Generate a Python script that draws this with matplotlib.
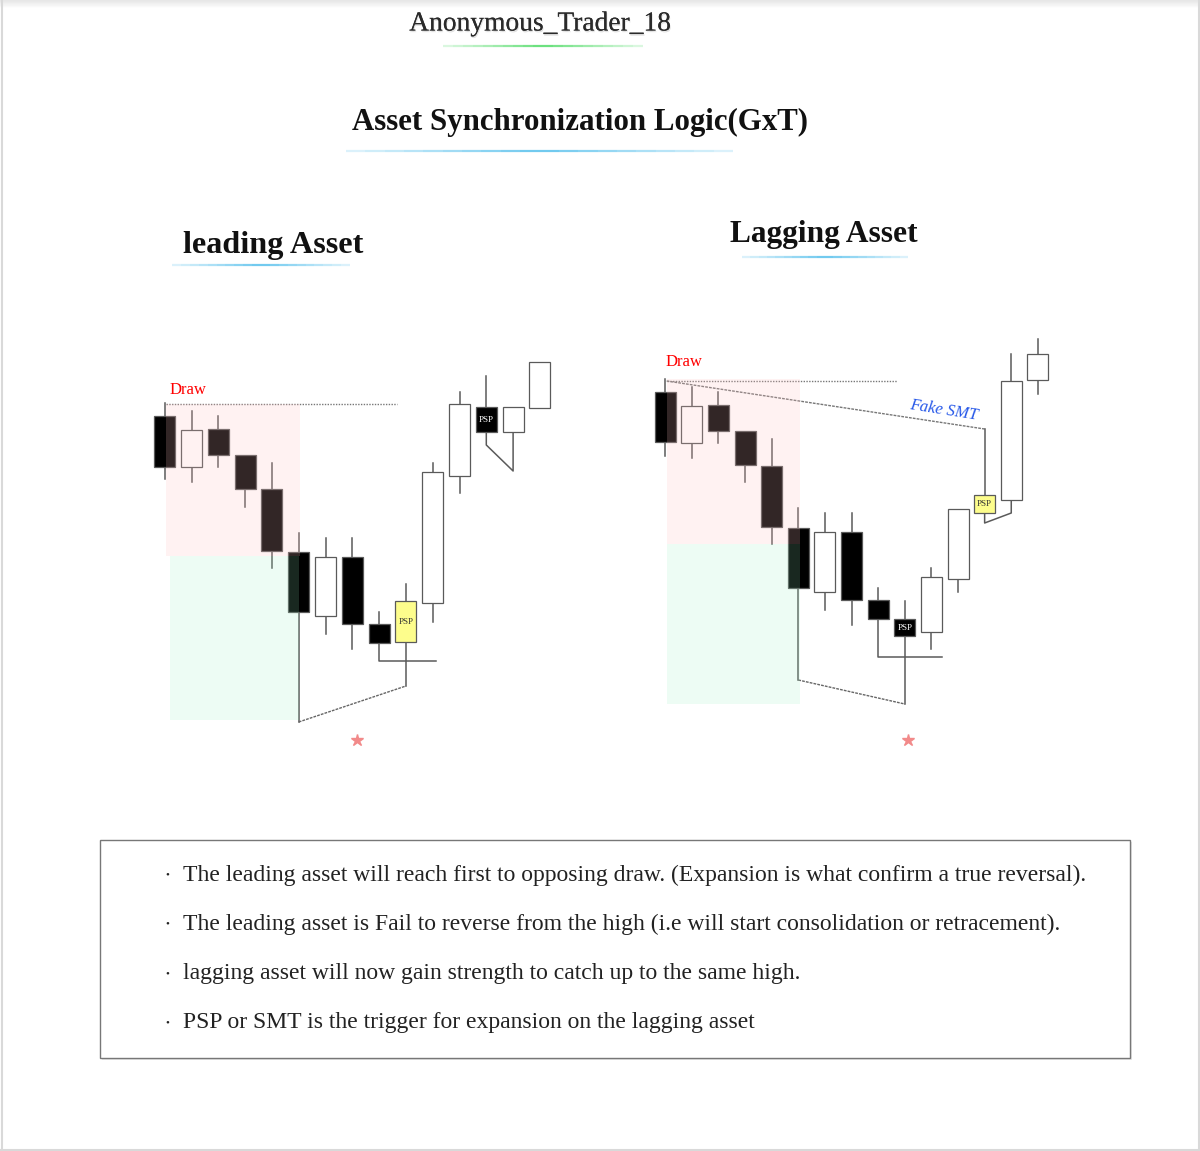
import matplotlib
matplotlib.use("Agg")
import matplotlib.pyplot as plt
import matplotlib.patheffects as pe
from matplotlib.patches import Rectangle

plt.rcParams['font.family'] = ['Liberation Serif', 'DejaVu Serif']

# candle data, in picture units (y grows downward)
# kind: k = bearish, w = bullish, y = yellow PSP, p = black PSP
lead_high = [403, 411, 416, 455, 463, 533, 538, 538, 612, 584, 463, 392, 376, 407, 362]
lead_low = [479, 482, 467, 507, 568, 612, 634, 649, 643, 642, 622, 493, 432, 432, 408]
lead_top = [416, 430, 429, 455, 489, 552, 557, 557, 624, 601, 472, 404, 407, 407, 362]
lead_bot = [467, 467, 455, 489, 551, 612, 616, 624, 643, 642, 603, 476, 432, 432, 408]
lead_kind = ['k', 'w', 'k', 'k', 'k', 'k', 'w', 'k', 'k', 'y', 'w', 'w', 'p', 'w', 'w']

lag_high = [379, 387, 392, 431, 439, 508, 513, 513, 588, 601, 568, 509, 495, 354, 339]
lag_low = [456, 458, 443, 482, 544, 588, 610, 625, 619, 636, 649, 592, 513, 500, 394]
lag_top = [392, 406, 405, 431, 466, 528, 532, 532, 600, 619, 577, 509, 495, 381, 354]
lag_bot = [442, 443, 431, 465, 527, 588, 592, 600, 619, 636, 632, 579, 513, 500, 380]
lag_kind = ['k', 'w', 'k', 'k', 'k', 'k', 'w', 'k', 'k', 'p', 'w', 'w', 'y', 'w', 'w']

# levels used by the annotation lines
lead_draw = 404
lead_zone_split = 556
lead_zone_low = 720
lead_swing_low = 722
lead_psp_low = 686
lead_eq_low = 661
lead_retrace = [445, 471]
lag_draw = 381
lag_zone_split = 544
lag_zone_low = 704
lag_smt_end = 429
lag_swing_low = 680
lag_psp_low = 704
lag_eq_low = 657
lag_psp2 = [523, 513]

bullets = [
    "The leading asset will reach first to opposing draw. (Expansion is what confirm a true reversal).",
    "The leading asset is Fail to reverse from the high (i.e will start consolidation or retracement).",
    "lagging asset will now gain strength to catch up to the same high.",
    "PSP or SMT is the trigger for expansion on the lagging asset",
]

fig = plt.figure(figsize=(12, 11.51), dpi=100)
ax = fig.add_axes([0, 0, 1, 1])
ax.set_xlim(0, 1200)
ax.set_ylim(1151, 0)
ax.axis('off')

# page frame
for i in range(8):
    ax.plot([0, 1200], [i, i], color='0.6', alpha=0.12 * (1 - i / 8), lw=1.5)
ax.plot([1.5, 1.5], [0, 1151], color='0.85', lw=1.5)
ax.plot([1198.5, 1198.5], [0, 1151], color='0.85', lw=1.5)
ax.plot([0, 1200], [1149.5, 1149.5], color='0.85', lw=1.5)

GRAY = '#5a5a5a'


def underline(x0, x1, y, color):
    n = 20
    w = (x1 - x0) / n
    for i in range(n):
        a = 1 - abs((i + 0.5) / n - 0.5) * 1.6
        ax.plot([x0 + i * w, x0 + (i + 1) * w], [y, y], color=color, alpha=a, lw=1.6,
                solid_capstyle='butt')


def candles(x0, step, high, low, top, bot, kind):
    xs = [x0 + step * i for i in range(len(high))]
    for x, h, l, t, b, k in zip(xs, high, low, top, bot, kind):
        ax.plot([x, x], [h, t], color=GRAY, lw=1.1, zorder=2)
        ax.plot([x, x], [b, l], color=GRAY, lw=1.1, zorder=2)
        face = {'k': 'black', 'w': 'white', 'y': '#fdfd8c', 'p': 'black'}[k]
        ax.add_patch(Rectangle((x - 10.5, t), 21, b - t, facecolor=face, edgecolor=GRAY,
                               lw=0.9, zorder=3))
        if k in 'yp':
            ax.text(x, (t + b) / 2, "PSP", ha='center', va='center', fontsize=6.5,
                    color='white' if k == 'p' else '#333333', zorder=4)
    return xs


# ---- leading asset
lx = candles(164.7, 26.8, lead_high, lead_low, lead_top, lead_bot, lead_kind)
ax.add_patch(Rectangle((lx[0] + 1.5, lead_draw), lx[5] - lx[0], lead_zone_split - lead_draw,
                       facecolor='#ffc0c0', alpha=0.2, lw=0, zorder=5))
ax.add_patch(Rectangle((lx[0] + 5.5, lead_zone_split), lx[5] - lx[0] - 5, lead_zone_low - lead_zone_split,
                       facecolor='#99f0bf', alpha=0.17, lw=0, zorder=5))
ax.text(170, 390, "Draw", color='red', fontsize=12, va='center')
ax.plot([lx[0] + 1.5, 397], [lead_draw, lead_draw], color='#777777', lw=1, ls=(0, (1, 1)))
ax.plot([lx[5], lx[5]], [lead_bot[5], lead_swing_low], color=GRAY, lw=1.1)
ax.plot([lx[5], lx[9]], [lead_swing_low, lead_psp_low], color='#666666', lw=1, ls=(0, (2, 0.8)))
ax.plot([lx[9], lx[9]], [lead_psp_low, lead_bot[9]], color=GRAY, lw=1.1)
ax.plot([lx[8], lx[8], 436], [lead_bot[8], lead_eq_low, lead_eq_low], color=GRAY, lw=1.1)
ax.plot([lx[12], lx[12], lx[13], lx[13]],
        [lead_bot[12], lead_retrace[0], lead_retrace[1], lead_bot[13]], color=GRAY, lw=1.1)
ax.plot(357, 740, marker='*', color='#f28a8a', ms=9, ls='none')

# ---- lagging asset
gx = candles(665.2, 26.62, lag_high, lag_low, lag_top, lag_bot, lag_kind)
ax.add_patch(Rectangle((gx[0] + 1.5, lag_draw - 2), gx[5] - gx[0], lag_zone_split - lag_draw + 2,
                       facecolor='#ffc0c0', alpha=0.2, lw=0, zorder=5))
ax.add_patch(Rectangle((gx[0] + 1.5, lag_zone_split), gx[5] - gx[0], lag_zone_low - lag_zone_split,
                       facecolor='#99f0bf', alpha=0.17, lw=0, zorder=5))
ax.text(666, 362, "Draw", color='red', fontsize=12, va='center')
ax.plot([gx[0] + 1.5, 897], [lag_draw, lag_draw], color='#777777', lw=1, ls=(0, (1, 1)))
ax.plot([gx[0] + 1.5, gx[12]], [lag_draw, lag_smt_end], color='#777777', lw=1, ls=(0, (2, 0.8)))
ax.plot([gx[12], gx[12]], [lag_smt_end, lag_top[12]], color=GRAY, lw=1.1)
ax.plot([gx[12], gx[12], gx[13], gx[13]],
        [lag_bot[12], lag_psp2[0], lag_psp2[1], lag_bot[13]], color=GRAY, lw=1.1)
ax.text(944, 410, "Fake SMT", color='#2456e8', fontsize=12, style='italic',
        ha='center', va='center', rotation=-9)
ax.plot([gx[5], gx[5]], [lag_bot[5], lag_swing_low], color=GRAY, lw=1.1)
ax.plot([gx[5], gx[9]], [lag_swing_low, lag_psp_low], color='#666666', lw=1, ls=(0, (2, 0.8)))
ax.plot([gx[9], gx[9]], [lag_psp_low, lag_bot[9]], color=GRAY, lw=1.1)
ax.plot([gx[8], gx[8], 942], [lag_bot[8], lag_eq_low, lag_eq_low], color=GRAY, lw=1.1)
ax.plot(908, 740, marker='*', color='#f28a8a', ms=9, ls='none')

# ---- titles
ax.text(540, 24, "Anonymous_Trader_18", ha='center', va='center', fontsize=19.8, color='#2a2a2a',
        path_effects=[pe.withSimplePatchShadow(offset=(0.6, -1.2), alpha=0.12), pe.Normal()])
underline(443, 643, 46, '#66e07a')
ax.text(580, 122, "Asset Synchronization Logic(GxT)", ha='center', va='center', fontsize=22.2,
        fontweight='bold', color='#111111')
underline(346, 733, 151, '#6cc8ef')
ax.text(273, 245, "leading Asset", ha='center', va='center', fontsize=23.2, fontweight='bold',
        color='#111111')
underline(172, 350, 265, '#6cc8ef')
ax.text(824, 234, "Lagging Asset", ha='center', va='center', fontsize=22.6, fontweight='bold',
        color='#111111')
underline(742, 908, 257, '#6cc8ef')

# ---- notes box
ax.add_patch(Rectangle((102, 842), 1030, 218, facecolor='#e6e6e6', lw=0, zorder=0))
ax.add_patch(Rectangle((100, 840), 1030, 218, facecolor='white', edgecolor='#777777', lw=1, zorder=1))
for i, line in enumerate(bullets):
    y = 875 + i * 49.3
    ax.text(167, y, "•", fontsize=8, ha='center', va='center', color='#222222')
    ax.text(183, y, line, fontsize=17, va='center', color='#222222')

fig.savefig("out.png", dpi=100)
